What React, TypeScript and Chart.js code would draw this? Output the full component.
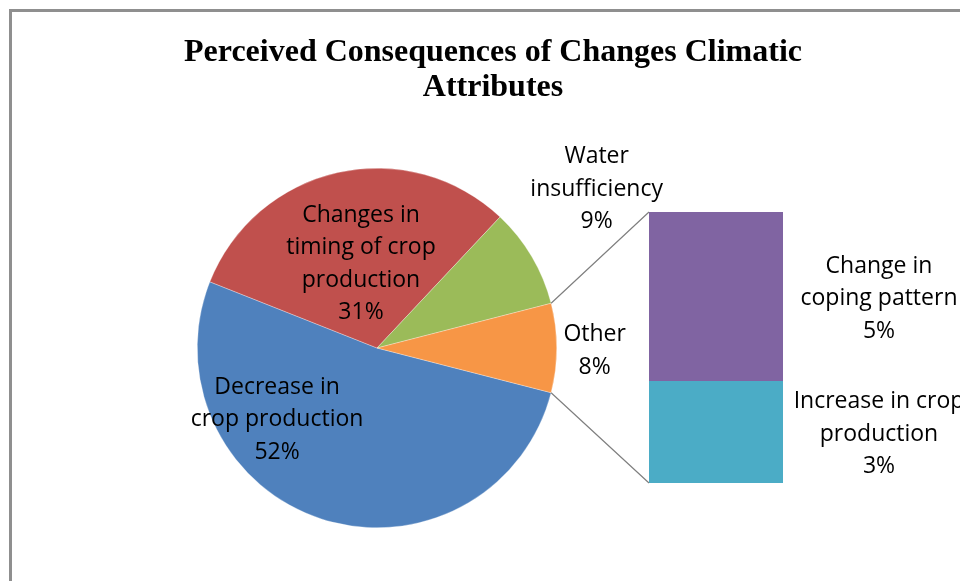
import React, { useEffect, useRef } from "react";
import { Chart, registerables } from "chart.js";

Chart.register(...registerables);

// ---- data ----
const titleLines = ["Perceived Consequences of Changes Climatic", "Attributes"];

const pieCategories = [
  "Decrease in crop production",
  "Changes in timing of crop production",
  "Water insufficiency",
  "Other",
];
const pieValues = [52, 31, 9, 8];
const pieColors = ["#4F81BD", "#C0504D", "#9BBB59", "#F79646"];
const pieLabelLines = [
  ["Decrease in", "crop production"],
  ["Changes in", "timing of crop", "production"],
  ["Water", "insufficiency"],
  ["Other"],
];

// breakdown of "Other" (bottom to top in the stacked bar)
const otherCategories = ["Increase in crop production", "Change in coping pattern"];
const otherValues = [3, 5];
const otherColors = ["#4BACC6", "#8064A2"];
const otherLabelLines = [
  ["Increase in crop", "production"],
  ["Change in", "coping pattern"],
];

// ---- layout constants (not data) ----
const W = 960;
const H = 581;
const LABEL_FONT = '23px "Open Sans", "Noto Sans", sans-serif';
const LINE_H = 32.5;
const TEXT_DY = 2;
// label anchors relative to pie centre, in units of radius
const pieLabelAnchors = [
  [-0.556, 0.389],
  [-0.089, -0.478],
  [1.222, -0.894],
  [1.211, 0.006],
];

function drawLines(ctx: CanvasRenderingContext2D, lines: string[], cx: number, cy: number) {
  ctx.save();
  ctx.font = LABEL_FONT;
  ctx.fillStyle = "#000";
  ctx.textAlign = "center";
  ctx.textBaseline = "middle";
  const n = lines.length;
  lines.forEach((t, i) => {
    ctx.fillText(t, cx, cy + TEXT_DY + (i - (n - 1) / 2) * LINE_H);
  });
  ctx.restore();
}

export default function App() {
  const pieRef = useRef<HTMLCanvasElement | null>(null);
  const barRef = useRef<HTMLCanvasElement | null>(null);

  useEffect(() => {
    if (!pieRef.current || !barRef.current) return;
    const total = pieValues.reduce((a, b) => a + b, 0);
    const otherIdx = pieValues.length - 1;
    const rotation = 90 + ((pieValues[otherIdx] / total) * 360) / 2;

    const piePlugin = {
      id: "pieDecor",
      beforeDraw(chart: any) {
        const ctx = chart.ctx as CanvasRenderingContext2D;
        ctx.save();
        ctx.fillStyle = "#fff";
        ctx.fillRect(0, 0, W, H);
        ctx.strokeStyle = "#8f8f8f";
        ctx.lineWidth = 3;
        ctx.strokeRect(10.5, 10.5, W + 100, H + 100);
        ctx.restore();
      },
      afterDraw(chart: any) {
        const ctx = chart.ctx as CanvasRenderingContext2D;
        // title
        ctx.save();
        ctx.font = 'bold 32px "Liberation Serif", "Times New Roman", serif';
        ctx.fillStyle = "#000";
        ctx.textAlign = "center";
        ctx.textBaseline = "alphabetic";
        titleLines.forEach((t, i) => ctx.fillText(t, 493, 61 + i * 35));
        ctx.restore();
        // slice labels
        const meta = chart.getDatasetMeta(0);
        meta.data.forEach((arc: any, i: number) => {
          const r = arc.outerRadius;
          const [ax, ay] = pieLabelAnchors[i];
          const lines = [...pieLabelLines[i], `${pieValues[i]}%`];
          drawLines(ctx, lines, arc.x + ax * r, arc.y + ay * r);
        });
      },
    };

    const pie = new Chart(pieRef.current, {
      type: "pie",
      data: {
        labels: pieCategories,
        datasets: [
          {
            data: pieValues,
            backgroundColor: pieColors,
            borderColor: "rgba(255,255,255,0.6)",
            borderWidth: 0.5,
            hoverOffset: 0,
          },
        ],
      },
      options: {
        responsive: false,
        maintainAspectRatio: false,
        animation: false,
        rotation,
        layout: { padding: { left: 197, right: 403, top: 168, bottom: 53 } },
        plugins: { legend: { display: false }, tooltip: { enabled: false }, title: { display: false } },
      },
      plugins: [piePlugin],
    });

    const barPlugin = {
      id: "barDecor",
      afterDraw(chart: any) {
        const ctx = chart.ctx as CanvasRenderingContext2D;
        const bottomEl: any = chart.getDatasetMeta(0).data[0];
        const topEl: any = chart.getDatasetMeta(chart.data.datasets.length - 1).data[0];
        const left = bottomEl.x - bottomEl.width / 2;
        const right = bottomEl.x + bottomEl.width / 2;
        // connector lines from the "Other" slice
        const arc: any = pie.getDatasetMeta(0).data[otherIdx];
        const R = arc.outerRadius;
        const p1 = [arc.x + R * Math.cos(arc.startAngle), arc.y + R * Math.sin(arc.startAngle)];
        const p2 = [arc.x + R * Math.cos(arc.endAngle), arc.y + R * Math.sin(arc.endAngle)];
        ctx.save();
        ctx.strokeStyle = "#7f7f7f";
        ctx.lineWidth = 1.2;
        ctx.beginPath();
        ctx.moveTo(p1[0], p1[1]);
        ctx.lineTo(left, topEl.y);
        ctx.moveTo(p2[0], p2[1]);
        ctx.lineTo(left, bottomEl.base);
        ctx.stroke();
        ctx.restore();
        // segment labels
        chart.data.datasets.forEach((ds: any, i: number) => {
          const el: any = chart.getDatasetMeta(i).data[0];
          const cy = (el.y + el.base) / 2;
          drawLines(ctx, [...otherLabelLines[i], `${otherValues[i]}%`], right + 96, cy);
        });
      },
    };

    const bar = new Chart(barRef.current, {
      type: "bar",
      data: {
        labels: ["Other"],
        datasets: otherCategories.map((c, i) => ({
          label: c,
          data: [otherValues[i]],
          backgroundColor: otherColors[i],
          borderColor: "#ffffff",
          borderWidth: 0,
          barPercentage: 1,
          categoryPercentage: 1,
        })),
      },
      options: {
        responsive: false,
        maintainAspectRatio: false,
        animation: false,
        layout: { padding: { left: 649, right: 177, top: 212, bottom: 98 } },
        scales: {
          x: { display: false, stacked: true },
          y: { display: false, stacked: true, min: 0, max: otherValues.reduce((a, b) => a + b, 0) },
        },
        plugins: { legend: { display: false }, tooltip: { enabled: false } },
      },
      plugins: [barPlugin],
    });

    return () => {
      bar.destroy();
      pie.destroy();
    };
  }, []);

  return (
    <div style={{ position: "fixed", left: 0, top: 0, width: W, height: H, background: "#fff" }}>
      <canvas ref={pieRef} width={W} height={H} style={{ position: "absolute", left: 0, top: 0 }} />
      <canvas ref={barRef} width={W} height={H} style={{ position: "absolute", left: 0, top: 0 }} />
    </div>
  );
}
